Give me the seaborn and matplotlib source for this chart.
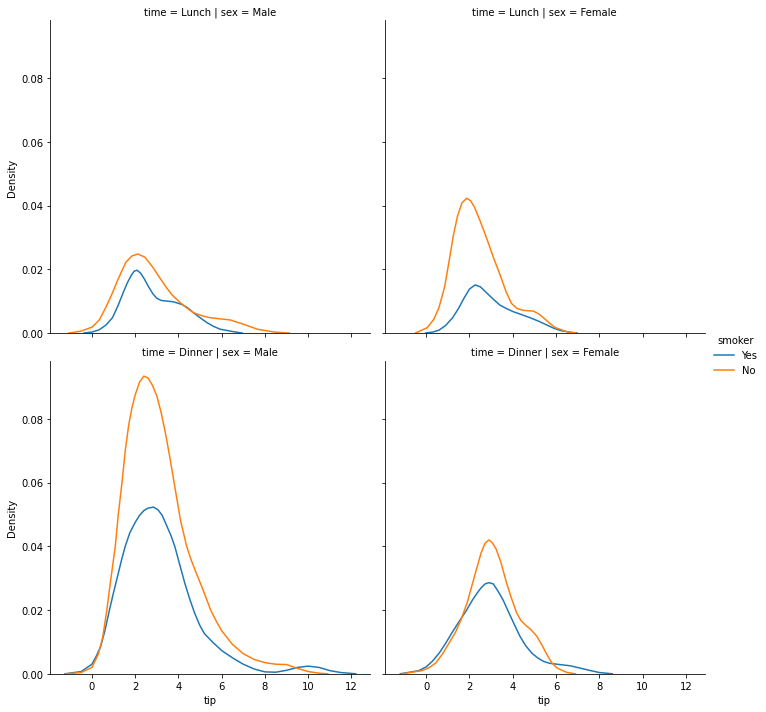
import numpy as np
import pandas as pd
import seaborn as sns
import matplotlib
matplotlib.use("Agg")
import matplotlib.pyplot as plt

times = ["Lunch", "Dinner"]
sexes = ["Male", "Female"]
smokers = ["Yes", "No"]

# Lunch / Male
lm_yes_x = [-0.37, 0.0, 0.33, 0.65, 0.95, 1.2, 1.42, 1.62, 1.81, 1.95, 2.09, 2.25, 2.43, 2.62, 2.82, 3.0, 3.21, 3.5, 3.76, 4.15, 4.45, 4.69, 5.0, 5.31, 5.62, 5.93, 6.56, 6.95]
lm_yes_y = [0, 0.0003, 0.001, 0.0025, 0.0048, 0.0085, 0.0122, 0.0155, 0.018, 0.0194, 0.0197, 0.0188, 0.0169, 0.0145, 0.0123, 0.0109, 0.0102, 0.0100, 0.0098, 0.009, 0.0078, 0.0064, 0.0048, 0.0033, 0.0021, 0.0012, 0.0004, 0]
lm_no_x = [-1.07, -0.5, 0.02, 0.35, 0.64, 0.9, 1.11, 1.35, 1.57, 1.85, 2.12, 2.45, 2.82, 3.15, 3.44, 3.7, 3.99, 4.3, 4.69, 5.1, 5.47, 6.0, 6.4, 7.03, 7.65, 8.43, 9.13]
lm_no_y = [0, 0.0006, 0.0019, 0.0042, 0.008, 0.0118, 0.0153, 0.019, 0.0222, 0.0242, 0.0248, 0.0238, 0.0206, 0.0172, 0.0143, 0.012, 0.0101, 0.0083, 0.0064, 0.0054, 0.0048, 0.0044, 0.0041, 0.0027, 0.0012, 0.0003, 0]

# Lunch / Female
lf_yes_x = [-0.03, 0.3, 0.59, 0.9, 1.22, 1.5, 1.76, 2.0, 2.26, 2.5, 2.78, 3.1, 3.4, 3.7, 4.02, 4.4, 4.8, 5.2, 5.58, 5.9, 6.2, 6.6, 6.98]
lf_yes_y = [0, 0.0003, 0.0009, 0.0024, 0.0048, 0.0078, 0.0111, 0.0138, 0.0151, 0.0145, 0.0127, 0.0106, 0.0088, 0.0077, 0.0067, 0.0058, 0.0048, 0.0037, 0.0025, 0.0015, 0.0008, 0.0003, 0]
lf_no_x = [-0.5, 0.05, 0.35, 0.59, 0.85, 1.06, 1.25, 1.45, 1.65, 1.87, 2.05, 2.23, 2.5, 2.78, 3.1, 3.4, 3.7, 3.94, 4.2, 4.49, 4.95, 5.2, 5.42, 5.7, 5.97, 6.51, 6.9]
lf_no_y = [0, 0.0017, 0.0043, 0.008, 0.0145, 0.0227, 0.0305, 0.0368, 0.0408, 0.0423, 0.0415, 0.0395, 0.035, 0.030, 0.0238, 0.0185, 0.0128, 0.0093, 0.0077, 0.0071, 0.0069, 0.006, 0.0048, 0.0031, 0.0017, 0.0004, 0]

# Dinner / Male
dm_yes_x = [-1.25, -0.5, 0.0, 0.2, 0.4, 0.6, 0.81, 1.0, 1.2, 1.38, 1.54, 1.75, 2.0, 2.2, 2.4, 2.6, 2.85, 3.05, 3.25, 3.5, 3.66, 3.83, 4.05, 4.3, 4.51, 4.74, 4.98, 5.2, 5.6, 6.0, 6.5, 7.0, 7.5, 8.0, 8.5, 9.0, 9.5, 10.0, 10.5, 11.0, 11.5, 12.2]
dm_yes_y = [0, 0.0007, 0.003, 0.0055, 0.0085, 0.0135, 0.02, 0.0255, 0.031, 0.036, 0.040, 0.0442, 0.0475, 0.0497, 0.0512, 0.052, 0.0523, 0.0515, 0.0497, 0.0458, 0.0433, 0.040, 0.0345, 0.0283, 0.0237, 0.0192, 0.0153, 0.0126, 0.0098, 0.0073, 0.005, 0.003, 0.0015, 0.0006, 0.0005, 0.0011, 0.002, 0.0024, 0.002, 0.001, 0.0004, 0]
dm_no_x = [-1.2, -0.5, 0.0, 0.3, 0.5, 0.69, 0.88, 1.08, 1.22, 1.39, 1.55, 1.7, 1.85, 2.0, 2.2, 2.4, 2.6, 2.8, 3.0, 3.2, 3.4, 3.6, 3.8, 4.1, 4.38, 4.6, 4.8, 5.1, 5.49, 5.75, 6.0, 6.5, 7.0, 7.5, 8.0, 8.5, 9.0, 9.5, 10.0, 10.5, 10.9]
dm_no_y = [0, 0.0004, 0.002, 0.0062, 0.0115, 0.02, 0.03, 0.04, 0.05, 0.06, 0.0705, 0.078, 0.0835, 0.0875, 0.0915, 0.0934, 0.0928, 0.0905, 0.0872, 0.082, 0.0755, 0.068, 0.06, 0.048, 0.04, 0.0355, 0.032, 0.027, 0.02, 0.0165, 0.0135, 0.0092, 0.0063, 0.0045, 0.0035, 0.003, 0.0029, 0.0017, 0.0007, 0.0002, 0]

# Dinner / Female
df_yes_x = [-1.2, -0.34, 0.0, 0.28, 0.6, 0.91, 1.2, 1.53, 1.85, 2.15, 2.35, 2.54, 2.72, 2.9, 3.1, 3.32, 3.55, 3.79, 4.05, 4.33, 4.6, 4.88, 5.15, 5.42, 5.7, 6.05, 6.67, 7.29, 7.6, 8.0, 8.6]
df_yes_y = [0, 0.001, 0.0022, 0.0039, 0.0065, 0.0097, 0.013, 0.0165, 0.0198, 0.0233, 0.0253, 0.027, 0.0282, 0.0286, 0.0282, 0.0259, 0.0232, 0.0196, 0.0158, 0.0118, 0.0088, 0.0065, 0.005, 0.0039, 0.0033, 0.003, 0.0025, 0.0015, 0.001, 0.0004, 0]
df_no_x = [-1.12, -0.19, 0.15, 0.44, 0.75, 1.06, 1.35, 1.61, 1.9, 2.15, 2.35, 2.54, 2.72, 2.9, 3.07, 3.24, 3.45, 3.71, 3.95, 4.18, 4.37, 4.57, 4.85, 5.11, 5.35, 5.58, 5.8, 6.05, 6.51, 6.9]
df_no_y = [0, 0.001, 0.002, 0.0034, 0.0062, 0.0097, 0.013, 0.017, 0.0225, 0.0286, 0.0335, 0.038, 0.041, 0.042, 0.041, 0.039, 0.035, 0.0286, 0.0235, 0.0191, 0.0168, 0.0154, 0.0138, 0.0118, 0.009, 0.006, 0.0035, 0.0018, 0.0004, 0]

curves = [
    ("Lunch", "Male", "Yes", lm_yes_x, lm_yes_y),
    ("Lunch", "Male", "No", lm_no_x, lm_no_y),
    ("Lunch", "Female", "Yes", lf_yes_x, lf_yes_y),
    ("Lunch", "Female", "No", lf_no_x, lf_no_y),
    ("Dinner", "Male", "Yes", dm_yes_x, dm_yes_y),
    ("Dinner", "Male", "No", dm_no_x, dm_no_y),
    ("Dinner", "Female", "Yes", df_yes_x, df_yes_y),
    ("Dinner", "Female", "No", df_no_x, df_no_y),
]
rows = []
for t, s, sm, xs, ys in curves:
    for x, y in zip(xs, ys):
        rows.append({"time": t, "sex": s, "smoker": sm, "tip": x, "Density": y})
data = pd.DataFrame(rows)

g = sns.relplot(data=data, x="tip", y="Density", row="time", col="sex",
                hue="smoker", kind="line", height=5, aspect=1,
                row_order=times, col_order=sexes, hue_order=smokers,
                palette=["#1f77b4", "#ff7f0e"], errorbar=None)
g.set_titles("{row_var} = {row_name} | {col_var} = {col_name}")
for ax in g.axes.flat:
    for line in ax.lines:
        line.sticky_edges.y[:] = [0]
    ax.relim()
    ax.autoscale_view()
g.savefig("out.png", dpi=72)
